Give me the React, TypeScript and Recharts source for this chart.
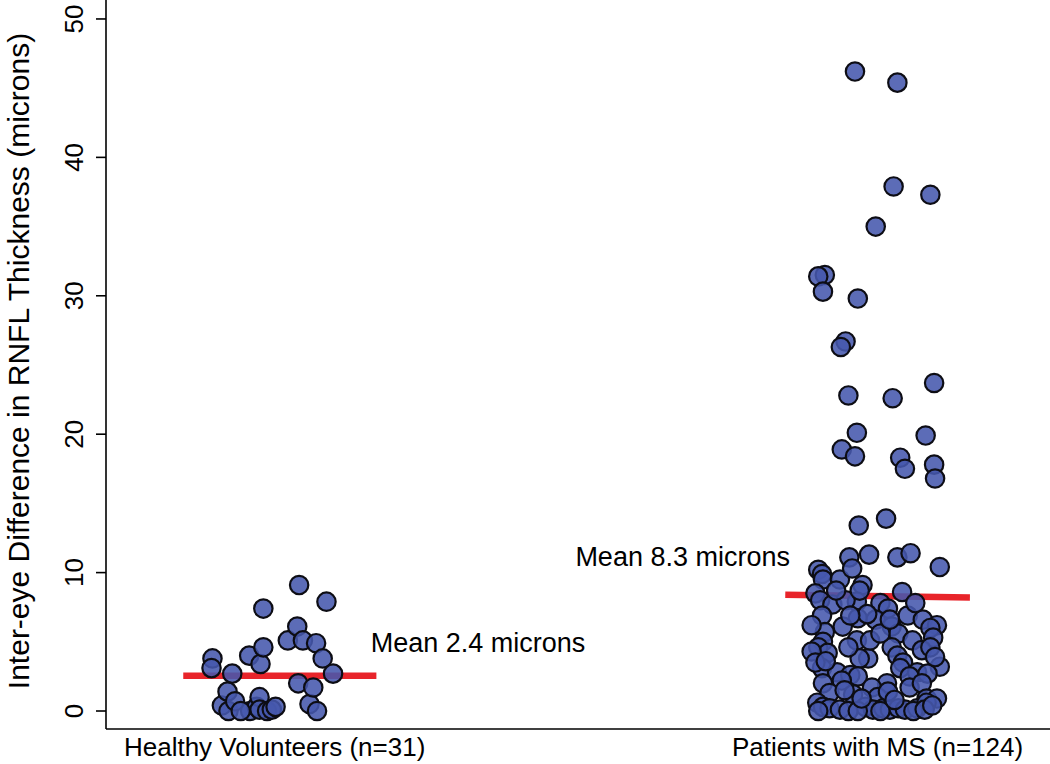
import React from "react";
import {
  ScatterChart,
  Scatter,
  XAxis,
  YAxis,
  ReferenceLine,
} from "recharts";

const FONT = "'Liberation Sans', Arial, Helvetica, sans-serif";

// Category positions on the x scale and their labels
const categoryTicks = [17.7, 81.7];
const categoryLabels = ["Healthy Volunteers (n=31)", "Patients with MS (n=124)"];
const yTicks = [0, 10, 20, 30, 40, 50];

// Healthy volunteers: jittered x position, inter-eye difference (microns)
const healthyX = [
  11.1, 11.0, 12.1, 12.8, 12.7, 13.2, 13.5, 15.0, 15.1, 15.8, 16.1, 16.2, 16.5,
  16.5, 16.1, 16.9, 17.4, 17.8, 19.1, 20.1, 20.3, 20.2, 20.7, 21.4, 21.8, 22.1,
  22.2, 22.8, 23.2, 23.9, 14.1,
];
const healthyY = [
  3.8, 3.1, 0.4, 0.0, 1.4, 2.7, 0.7, 4.0, 0.0, 0.3, 1.0, 3.4, 4.6, 7.4, 0.1,
  0.0, 0.1, 0.3, 5.1, 6.1, 9.1, 2.0, 5.1, 0.5, 1.7, 4.9, 0.0, 3.8, 7.9, 2.7,
  0.0,
];

// Patients with MS
const msX = [
  79.3, 83.8, 83.4, 87.3, 81.5, 76.1, 75.4, 75.9, 79.6, 78.3, 77.8, 87.7, 78.6,
  83.3, 79.5, 86.8, 77.9, 79.3, 84.1, 84.6, 87.7, 87.8, 82.6, 79.7, 78.7, 80.8,
  83.8, 85.2, 88.3,
  75.4, 75.8, 75.9, 77.7, 80.1, 84.3, 75.1, 75.6, 76.9, 79.5, 82.0, 82.8, 84.9,
  75.8, 79.6, 81.5, 86.5, 88.0, 78.0, 83.2, 87.3, 76.1, 83.9, 87.6, 85.4, 79.5,
  75.9, 75.4, 83.2, 76.4, 80.7, 79.8, 83.8, 84.4, 75.8, 88.3, 77.4, 84.1, 85.9,
  87.0, 78.8, 79.6, 85.1, 77.9, 75.9, 82.7, 81.1, 85.1, 86.4, 76.6, 79.1, 81.7,
  86.9, 88.0, 75.3, 75.9, 76.6, 77.7, 80.4, 81.2, 82.3, 83.0, 83.9, 84.6, 85.9,
  86.9,
  75.4, 78.6, 79.6, 82.0, 85.5, 86.7, 87.5, 74.7, 75.1, 80.9, 82.0, 80.6, 78.3,
  79.8, 79.0, 74.7, 76.2, 78.2, 82.8, 83.5, 80.0, 86.4, 87.3, 87.8, 83.0, 78.6,
  78.8, 85.7, 77.3,
];
const msY = [
  46.2, 45.4, 37.9, 37.3, 35.0, 31.5, 31.4, 30.3, 29.8, 26.7, 26.3, 23.7, 22.8,
  22.6, 20.1, 19.9, 18.9, 18.4, 18.3, 17.5, 17.8, 16.8, 13.9, 13.4, 11.1, 11.3,
  11.1, 11.4, 10.4,
  10.2, 9.9, 9.5, 9.5, 9.1, 8.6, 8.5, 8.0, 7.7, 7.9, 7.8, 7.4, 6.9,
  6.9, 6.7, 6.6, 6.6, 6.2, 6.1, 6.1, 6.0, 5.7, 5.6, 5.3, 5.1, 5.1,
  5.0, 4.6, 4.6, 4.2, 3.8, 3.8, 4.0, 3.5, 3.1, 3.2, 2.8, 3.1, 2.8,
  2.7, 2.6, 2.5, 2.5, 2.2, 2.0, 2.0, 1.7, 1.7, 2.0, 1.3, 1.2, 1.0,
  0.9, 0.9, 0.6, 0.3, 0.2, 0.1, 0.3, 0.1, 0.2, 0.1, 0.2, 0.1, 0.2,
  0.6,
  0.0, 0.0, 0.0, 0.0, 0.0, 0.1, 0.4, 4.3, 3.5, 5.1, 5.6, 7.0, 8.0,
  8.7, 10.3, 6.2, 3.6, 1.5, 1.4, 0.8, 0.9, 4.4, 4.6, 3.9, 6.6, 4.6,
  6.9, 7.8, 8.7,
];

// Mean lines (start x, end x, level at start, level at end) and labels
const healthyMean = { x1: 8.0, x2: 28.5, y1: 2.55, y2: 2.55 };
const msMean = { x1: 71.9, x2: 91.5, y1: 8.4, y2: 8.2 };
const meanLabels = [
  { x: 27.9, y: 4.9, text: "Mean 2.4 microns", anchor: "start" },
  { x: 72.4, y: 11.1, text: "Mean 8.3 microns", anchor: "end" },
];

const healthyData = healthyX.map((x, i) => ({ x, y: healthyY[i] }));
const msData = msX.map((x, i) => ({ x, y: msY[i] }));

const Dot = (props: any) => {
  const { cx, cy } = props;
  if (cx == null || cy == null) return null;
  return (
    <circle
      cx={cx}
      cy={cy}
      r={9.2}
      fill="#4658ad"
      fillOpacity={0.88}
      stroke="#0d0d14"
      strokeWidth={2.2}
    />
  );
};

const LabelShape = (props: any) => {
  const { cx, cy, payload } = props;
  return (
    <text
      x={cx}
      y={cy}
      textAnchor={payload.anchor}
      dominantBaseline="central"
      fontFamily={FONT}
      fontSize={27}
      fill="#000"
    >
      {payload.text}
    </text>
  );
};

const XTick = (props: any) => {
  const { x, y, payload } = props;
  const idx = categoryTicks.indexOf(payload.value);
  return (
    <text
      x={x}
      y={y + 10}
      textAnchor="middle"
      dominantBaseline="central"
      fontFamily={FONT}
      fontSize={26}
      fill="#000"
    >
      {categoryLabels[idx]}
    </text>
  );
};

const YTick = (props: any) => {
  const { x, y, payload } = props;
  const tx = x - 20;
  return (
    <text
      x={tx}
      y={y}
      transform={`rotate(-90, ${tx}, ${y})`}
      textAnchor="middle"
      dominantBaseline="central"
      fontFamily={FONT}
      fontSize={26}
      fill="#000"
    >
      {payload.value}
    </text>
  );
};

const YTitle = () => {
  const cx = 18;
  const cy = 361;
  return (
    <text
      x={cx}
      y={cy}
      transform={`rotate(-90, ${cx}, ${cy})`}
      textAnchor="middle"
      dominantBaseline="central"
      fontFamily={FONT}
      fontSize={30}
      fill="#000"
    >
      Inter-eye Difference in RNFL Thickness (microns)
    </text>
  );
};

export default function App() {
  return (
    <div
      style={{
        position: "absolute",
        left: 0,
        top: 0,
        width: 1050,
        height: 764,
        background: "#fff",
      }}
    >
      <ScatterChart
        width={1050}
        height={764}
        margin={{ top: 0, right: 0, bottom: 0, left: 0 }}
      >
        <XAxis
          type="number"
          dataKey="x"
          domain={[-0.2, 100]}
          ticks={categoryTicks}
          tickLine={false}
          axisLine={{ stroke: "#000", strokeWidth: 1.6 }}
          height={35}
          tick={<XTick />}
          interval={0}
        />
        <YAxis
          type="number"
          dataKey="y"
          domain={[-1.3, 51.37]}
          ticks={yTicks}
          width={106}
          tickSize={10}
          tickLine={{ stroke: "#000", strokeWidth: 1.6 }}
          axisLine={{ stroke: "#000", strokeWidth: 1.6 }}
          tick={<YTick />}
          interval={0}
          allowDataOverflow
          label={<YTitle />}
        />
        <Scatter
          data={healthyData}
          shape={<Dot />}
          isAnimationActive={false}
        />
        <Scatter data={msData} shape={<Dot />} isAnimationActive={false} />
        <ReferenceLine
          segment={[
            { x: healthyMean.x1, y: healthyMean.y1 },
            { x: healthyMean.x2, y: healthyMean.y2 },
          ]}
          stroke="#e8242a"
          strokeWidth={6.5}
        />
        <ReferenceLine
          segment={[
            { x: msMean.x1, y: msMean.y1 },
            { x: msMean.x2, y: msMean.y2 },
          ]}
          stroke="#e8242a"
          strokeWidth={6.5}
        />
        <Scatter
          data={meanLabels}
          shape={<LabelShape />}
          isAnimationActive={false}
        />
      </ScatterChart>
    </div>
  );
}
